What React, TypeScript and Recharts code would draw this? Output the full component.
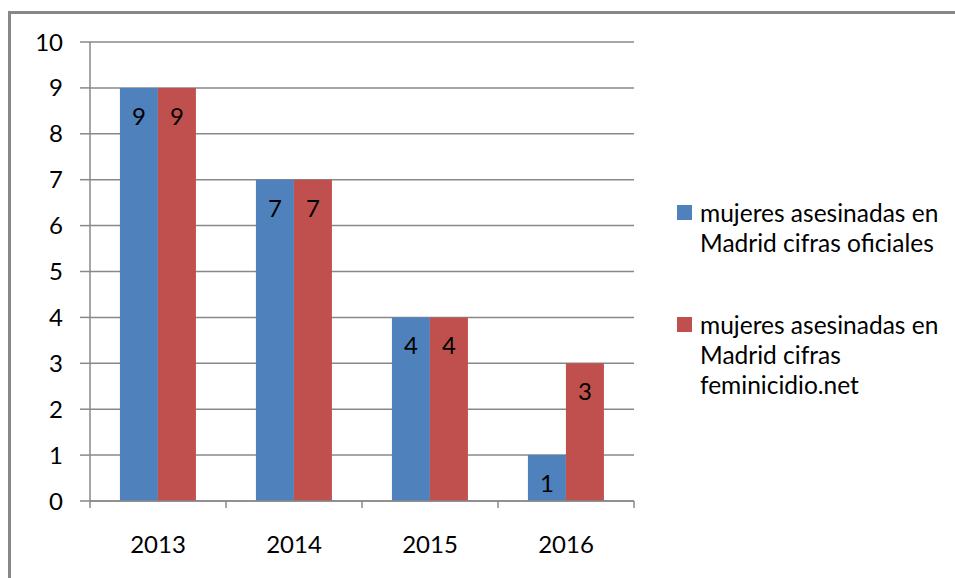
import React from "react";
import { BarChart, Bar, XAxis, YAxis, CartesianGrid, LabelList } from "recharts";

const categories = ["2013", "2014", "2015", "2016"];
const oficiales = [9, 7, 4, 1];
const feminicidio = [9, 7, 4, 3];
const yTicks = [0, 1, 2, 3, 4, 5, 6, 7, 8, 9, 10];
const seriesNames = [
  ["mujeres asesinadas en", "Madrid cifras oficiales"],
  ["mujeres asesinadas en", "Madrid cifras", "feminicidio.net"],
];
const colors = ["#4F81BD", "#C0504D"];

const data = categories.map((c, i) => ({ year: c, a: oficiales[i], b: feminicidio[i] }));

const FONT = "Lato, 'Open Sans', sans-serif";
const FS = 24;

const XTick = (props: any) => {
  const { x, y, payload, index, visibleTicksCount } = props;
  const half = payload && payload.offset ? payload.offset : 68;
  const top = y - 8;
  return (
    <g>
      <line x1={x - half} y1={top} x2={x - half} y2={top + 7} stroke="#888" strokeWidth={1.5} />
      {index === visibleTicksCount - 1 && (
        <line x1={x + half} y1={top} x2={x + half} y2={top + 7} stroke="#888" strokeWidth={1.5} />
      )}
      <text x={x} y={y + 44} textAnchor="middle" fontSize={FS} fill="#000" fontFamily={FONT}>
        {payload.value}
      </text>
    </g>
  );
};

const LegendBox = () => (
  <div style={{ position: "absolute", left: 677, top: 198, fontFamily: FONT, fontSize: 24.5, color: "#000" }}>
    {seriesNames.map((lines, i) => (
      <div key={i} style={{ position: "relative", paddingLeft: 23, marginBottom: i === 0 ? 52 : 0, lineHeight: "30px" }}>
        <div style={{ position: "absolute", left: 0, top: 7, width: 15, height: 15, background: colors[i] }} />
        {lines.map((l, j) => (
          <div key={j} style={{ whiteSpace: "nowrap" }}>{l}</div>
        ))}
      </div>
    ))}
  </div>
);

export default function App() {
  return (
    <div style={{ position: "absolute", left: 0, top: 0, width: 955, height: 578, overflow: "hidden", background: "#fff" }}>
      <div style={{ position: "absolute", left: 8, top: 11, width: 980, height: 600, border: "3px solid #888", boxSizing: "border-box" }} />
      <BarChart
        width={955}
        height={578}
        data={data}
        margin={{ top: 42, right: 321, bottom: 0, left: 0 }}
        barCategoryGap="22%"
        barGap={0}
        style={{ position: "absolute", left: 0, top: 0 }}
      >
        <CartesianGrid vertical={false} stroke="#888" strokeWidth={1.5} />
        <YAxis
          width={90}
          domain={[0, 10]}
          ticks={yTicks}
          interval={0}
          tickSize={10}
          tickMargin={17}
          axisLine={{ stroke: "#888", strokeWidth: 1.5 }}
          tickLine={{ stroke: "#888", strokeWidth: 1.5 }}
          tick={{ fontSize: FS, fill: "#000", fontFamily: FONT }}
        />
        <XAxis
          dataKey="year"
          height={77}
          axisLine={{ stroke: "#888", strokeWidth: 1.5 }}
          tickLine={false}
          tick={<XTick />}
          interval={0}
        />
        <Bar dataKey="a" fill={colors[0]} isAnimationActive={false}>
          <LabelList dataKey="a" position="insideTop" offset={20} fontSize={FS} fill="#000" fontFamily={FONT} />
        </Bar>
        <Bar dataKey="b" fill={colors[1]} isAnimationActive={false}>
          <LabelList dataKey="b" position="insideTop" offset={20} fontSize={FS} fill="#000" fontFamily={FONT} />
        </Bar>
      </BarChart>
      <LegendBox />
    </div>
  );
}
